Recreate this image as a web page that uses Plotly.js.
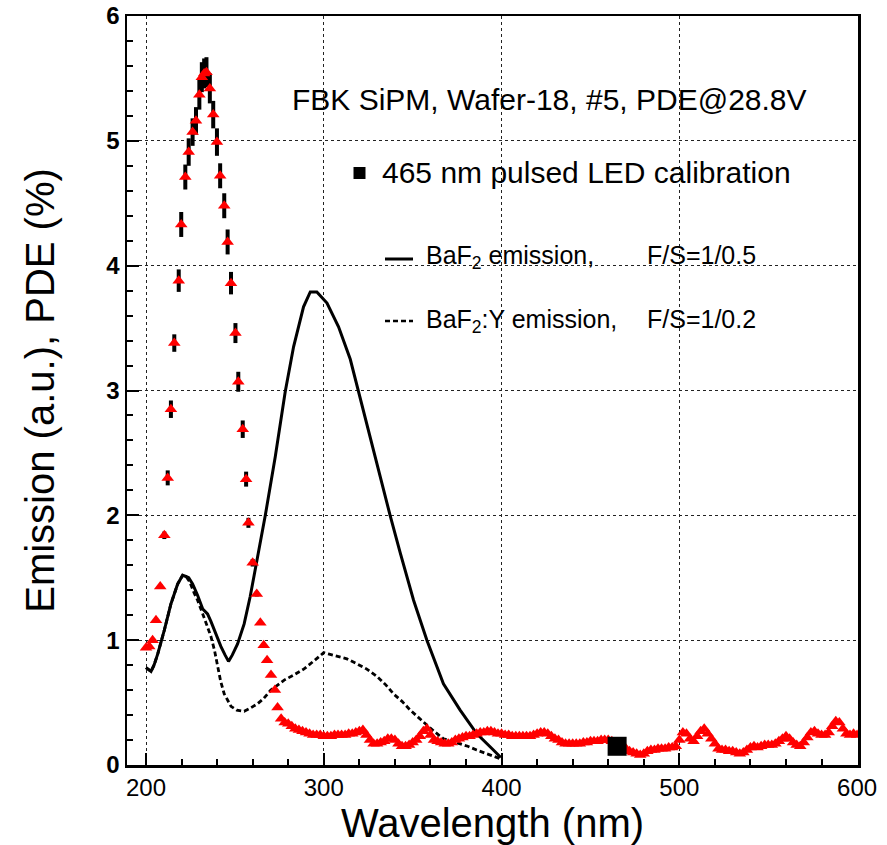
<!DOCTYPE html>
<html>
<head>
<meta charset="utf-8">
<script src="https://cdn.plot.ly/plotly-3.0.1.min.js"></script>
<style>html,body{margin:0;padding:0;background:#fff;}#chart{width:887px;height:845px;}</style>
</head>
<body>
<div id="chart"></div>
<script>
// PDE measurement, peak region (with error bars)
const pdeWlPeak = [200,201.8,203.7,205.6,208,210.3,212.2,214,215.9,218.4,219.8,222.1,224,226.2,228.1,230,231.4,232.7,234,235.9,237.8,239.9,241.7,244,245.9,247.8,250.3,251.9,254.4,256.3,257.6,260,262.3,264.3,266.2,268.1,270.3,272.5,274];
const pdePeak   = [0.94,0.95,1.00,1.16,1.43,1.84,2.30,2.85,3.38,3.88,4.33,4.71,4.91,5.07,5.16,5.37,5.51,5.54,5.55,5.42,5.21,4.99,4.72,4.48,4.19,3.86,3.46,3.07,2.69,2.29,1.94,1.62,1.37,1.14,0.96,0.84,0.72,0.60,0.46];
const pdeErrPeak= [0,0,0,0,0.02,0.03,0.06,0.07,0.07,0.09,0.10,0.10,0.11,0.11,0.11,0.12,0.12,0.12,0.12,0.12,0.11,0.11,0.10,0.10,0.10,0.09,0.08,0.08,0.07,0.06,0.04,0.03,0.02,0,0,0,0,0,0];

// PDE measurement, dense tail region
const pdeWlTail = [276,278,280,282,284,286,288,290,292,294,296,298,300,302,304,306,308,310,312,314,316,318,320,322,324,326,328,330,332,334,336,338,340,342,344,346,348,350,352,354,356,358,360,362,364,366,368,370,372,374,376,378,380,382,384,386,388,390,392,394,396,398,400,402,404,406,408,410,412,414,416,418,420,422,424,426,428,430,432,434,436,438,440,442,444,446,448,450,452,454,456,458,460,462,464,466,468,470,472,474,476,478,480,482,484,486,488,490,492,494,496,498,500,502,504,506,508,510,512,514,516,518,520,522,524,526,528,530,532,534,536,538,540,542,544,546,548,550,552,554,556,558,560,562,564,566,568,570,572,574,576,578,580,582,584,586,588,590,592,594,596,598,600];
const pdeTail   = [0.37,0.34,0.33,0.31,0.29,0.28,0.27,0.26,0.25,0.24,0.24,0.24,0.23,0.23,0.23,0.24,0.24,0.24,0.24,0.25,0.25,0.26,0.27,0.28,0.24,0.20,0.17,0.17,0.18,0.19,0.21,0.21,0.20,0.17,0.15,0.15,0.16,0.18,0.20,0.23,0.27,0.29,0.24,0.20,0.19,0.18,0.17,0.17,0.18,0.20,0.21,0.22,0.23,0.23,0.24,0.25,0.26,0.26,0.27,0.27,0.26,0.25,0.25,0.24,0.24,0.23,0.23,0.23,0.23,0.23,0.23,0.24,0.25,0.26,0.26,0.25,0.23,0.21,0.20,0.18,0.17,0.17,0.17,0.17,0.17,0.18,0.18,0.19,0.19,0.19,0.20,0.20,0.20,0.19,0.17,0.16,0.15,0.13,0.11,0.10,0.09,0.08,0.09,0.11,0.12,0.12,0.13,0.13,0.13,0.14,0.14,0.15,0.20,0.26,0.25,0.21,0.19,0.23,0.27,0.29,0.25,0.21,0.17,0.13,0.12,0.12,0.11,0.11,0.10,0.09,0.10,0.12,0.14,0.15,0.14,0.15,0.16,0.16,0.16,0.17,0.19,0.21,0.23,0.21,0.18,0.16,0.15,0.18,0.22,0.26,0.27,0.25,0.24,0.24,0.26,0.31,0.35,0.34,0.29,0.25,0.24,0.25,0.24];

// LED calibration point
const ledWl = [465];
const ledPde = [0.15];

// BaF2 emission (F/S=1/0.5)
const bafWl = [200,202.8,204.5,206.6,210.3,214,217.8,220.6,222.5,224,226.2,229,231.9,234.6,236.5,238.4,242.1,244.5,246.4,248.5,251.5,255.2,258.6,262.4,267.1,272.7,278.3,283,288.6,292.4,296.1,301.8,308.3,314.9,319.5,326.1,331.7,337.3,343,350.5,358,367.3,376.7,386.1,395.4,399.6];
const bafEm = [0.78,0.75,0.80,0.89,1.08,1.29,1.45,1.52,1.51,1.50,1.45,1.36,1.25,1.21,1.15,1.08,0.95,0.88,0.83,0.88,0.97,1.13,1.35,1.64,2.00,2.47,2.99,3.35,3.67,3.79,3.79,3.70,3.51,3.25,2.99,2.63,2.31,2.00,1.70,1.32,1.00,0.65,0.44,0.25,0.12,0.06];

// BaF2:Y emission (F/S=1/0.2)
const bafyWl = [200,202.8,204.5,206.6,210.3,214,217.8,220.6,222.5,224.5,227,229,232.7,236.5,238.5,240.2,242,244,246,247.8,251,255.2,258,262.7,266,270.2,274,277.7,283,288.9,295,300,302.5,308,313,318.7,324,329.9,335,339.2,344,348.6,353,358,362,367.4,372,376.7,381,386,392,399.4];
const bafyEm = [0.78,0.75,0.80,0.89,1.08,1.29,1.45,1.52,1.51,1.47,1.38,1.32,1.18,1.03,0.92,0.79,0.67,0.57,0.51,0.47,0.44,0.43,0.45,0.49,0.53,0.60,0.64,0.68,0.72,0.77,0.84,0.90,0.89,0.87,0.85,0.81,0.77,0.71,0.64,0.57,0.51,0.44,0.38,0.32,0.27,0.21,0.19,0.17,0.15,0.12,0.09,0.05];

// Tick labels
const xTicks = [200,300,400,500,600];
const yTicks = [0,1,2,3,4,5,6];

const FONT = 'Liberation Sans, Arial, Helvetica, sans-serif';

const traces = [
  {x: bafWl, y: bafEm, mode: 'lines', line: {color: '#000', width: 3}, hoverinfo: 'skip'},
  {x: bafyWl, y: bafyEm, mode: 'lines', line: {color: '#000', width: 2.8, dash: '5px,3px'}, hoverinfo: 'skip'},
  {x: pdeWlTail, y: pdeTail, mode: 'markers', marker: {symbol: 'triangle-up', size: 11, color: '#ff0000'}},
  {x: pdeWlPeak, y: pdePeak, mode: 'markers',
   marker: {symbol: 'triangle-up', size: 11, color: '#ff0000'},
   error_y: {type: 'data', array: pdeErrPeak, visible: true, color: '#000', thickness: 4, width: 0}},
  {x: ledWl, y: ledPde, mode: 'markers', marker: {symbol: 'square', size: 19, color: '#000'}}
];

const L = 127, R = 29, T = 16, B = 80;
const PW = 887 - L - R, PH = 845 - T - B;
const px = v => (v - L) / PW;
const py = v => (845 - B - v) / PH;

const annFont = {family: FONT, size: 30, color: '#000'};
const legFont = {family: FONT, size: 25, color: '#000'};

const layout = {
  width: 887, height: 845,
  margin: {l: L, r: R, t: T, b: B},
  paper_bgcolor: '#fff', plot_bgcolor: '#fff',
  showlegend: false,
  font: {family: FONT, color: '#000'},
  xaxis: {
    range: [189.3, 600.5], tickvals: xTicks, ticktext: xTicks.map(String),
    ticks: 'inside', ticklen: 12, tickwidth: 2, tickcolor: '#000',
    minor: {dtick: 20, ticks: 'inside', ticklen: 6, tickwidth: 2, tickcolor: '#000', showgrid: false},
    showgrid: true, gridcolor: '#222', gridwidth: 1, griddash: 'dot',
    showline: true, mirror: true, linecolor: '#000', linewidth: 2.5,
    zeroline: false, tickfont: {family: FONT, size: 24, color: '#000'},
    title: {text: 'Wavelength (nm)', font: {family: FONT, size: 40, color: '#000'}, standoff: 8},
    automargin: false
  },
  yaxis: {
    range: [0, 6], tickvals: yTicks, ticktext: yTicks.map(String),
    ticks: 'inside', ticklen: 12, tickwidth: 2, tickcolor: '#000',
    minor: {dtick: 0.2, ticks: 'inside', ticklen: 6, tickwidth: 2, tickcolor: '#000', showgrid: false},
    showgrid: true, gridcolor: '#222', gridwidth: 1, griddash: 'dot',
    showline: true, mirror: true, linecolor: '#000', linewidth: 2.5,
    zeroline: false, tickfont: {family: FONT, size: 24, color: '#000', weight: 'bold'},
    title: {text: 'Emission (a.u.), PDE (%)', font: {family: FONT, size: 40, color: '#000'}, standoff: 40},
    automargin: false
  },
  annotations: [
    {xref: 'paper', yref: 'paper', x: px(290), y: py(99), xanchor: 'left', yanchor: 'middle', showarrow: false,
     text: 'FBK SiPM, Wafer-18, #5, PDE@28.8V', font: annFont},
    {xref: 'paper', yref: 'paper', x: px(380), y: py(172), xanchor: 'left', yanchor: 'middle', showarrow: false,
     text: '465 nm pulsed LED calibration', font: annFont},
    {xref: 'paper', yref: 'paper', x: px(424), y: py(257), xanchor: 'left', yanchor: 'middle', showarrow: false,
     text: 'BaF<sub>2</sub> emission,', font: legFont},
    {xref: 'paper', yref: 'paper', x: px(645), y: py(255), xanchor: 'left', yanchor: 'middle', showarrow: false,
     text: 'F/S=1/0.5', font: legFont},
    {xref: 'paper', yref: 'paper', x: px(424), y: py(321), xanchor: 'left', yanchor: 'middle', showarrow: false,
     text: 'BaF<sub>2</sub>:Y emission,', font: legFont},
    {xref: 'paper', yref: 'paper', x: px(645), y: py(319), xanchor: 'left', yanchor: 'middle', showarrow: false,
     text: 'F/S=1/0.2', font: legFont}
  ],
  shapes: [
    {type: 'rect', xref: 'paper', yref: 'paper', x0: px(353.5), x1: px(365.5), y0: py(179), y1: py(167),
     fillcolor: '#000', line: {width: 0}},
    {type: 'line', xref: 'paper', yref: 'paper', x0: px(385), x1: px(413), y0: py(259), y1: py(259),
     line: {color: '#000', width: 3}},
    {type: 'line', xref: 'paper', yref: 'paper', x0: px(385), x1: px(413), y0: py(321), y1: py(321),
     line: {color: '#000', width: 2.5, dash: '5px,3px'}}
  ]
};

Plotly.newPlot('chart', traces, layout, {staticPlot: true, displayModeBar: false});
</script>
</body>
</html>
